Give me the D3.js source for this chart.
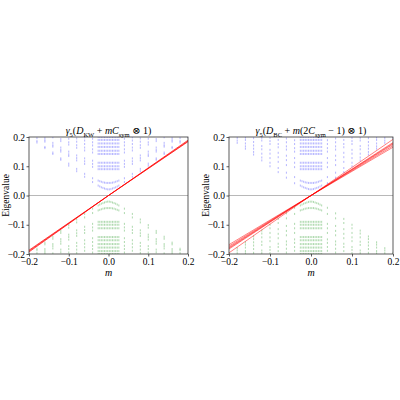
<!DOCTYPE html>
<html>
<head>
<meta charset="utf-8">
<script src="https://cdn.jsdelivr.net/npm/d3@7"></script>
<style>
    body { margin: 0; background: #fff; }
    text { font-family: "Liberation Serif", "DejaVu Serif", serif; fill: #000; }
</style>
</head>
<body>
<div id="chart"></div>
<script>
// m values of the sparse columns
var mOuter = [-0.2, -0.18, -0.16, -0.14, -0.12, -0.1, -0.08, -0.06, -0.04,
    0.04, 0.06, 0.08, 0.1, 0.12, 0.14, 0.16, 0.18, 0.2];

// positive eigenvalues per sparse column (blue)
var blueOuterKW = [
    [0.199],
    [0.181, 0.186, 0.196],
    [0.162, 0.166, 0.184, 0.189, 0.196],
    [0.142, 0.147, 0.167, 0.172, 0.18, 0.199],
    [0.122, 0.127, 0.15, 0.156, 0.164, 0.186, 0.193],
    [0.102, 0.109, 0.135, 0.141, 0.15, 0.174, 0.182, 0.194],
    [0.083, 0.091, 0.12, 0.128, 0.137, 0.163, 0.172, 0.184, 0.195],
    [0.064, 0.074, 0.108, 0.117, 0.127, 0.154, 0.164, 0.176, 0.188, 0.199],
    [0.046, 0.059, 0.098, 0.108, 0.119, 0.147, 0.158, 0.171, 0.182, 0.194],
    [0.046, 0.059, 0.098, 0.108, 0.119, 0.147, 0.158, 0.171, 0.182, 0.194],
    [0.064, 0.074, 0.108, 0.117, 0.127, 0.154, 0.164, 0.176, 0.188, 0.199],
    [0.083, 0.091, 0.12, 0.128, 0.137, 0.163, 0.172, 0.184, 0.195],
    [0.102, 0.109, 0.135, 0.141, 0.15, 0.174, 0.182, 0.194],
    [0.122, 0.127, 0.15, 0.156, 0.164, 0.186, 0.193],
    [0.142, 0.147, 0.167, 0.172, 0.18, 0.199],
    [0.162, 0.166, 0.184, 0.189, 0.196],
    [0.181, 0.186, 0.196],
    [0.199]
];

// negative eigenvalues per sparse column (green)
var greenOuterKW = [
    [-0.199],
    [-0.182, -0.187, -0.197],
    [-0.161, -0.167, -0.183, -0.19, -0.197],
    [-0.141, -0.148, -0.166, -0.173, -0.181, -0.198],
    [-0.121, -0.128, -0.149, -0.157, -0.165, -0.185, -0.194],
    [-0.101, -0.11, -0.134, -0.142, -0.151, -0.173, -0.183, -0.195],
    [-0.082, -0.092, -0.119, -0.129, -0.138, -0.162, -0.173, -0.185, -0.196],
    [-0.063, -0.075, -0.107, -0.118, -0.128, -0.153, -0.165, -0.177, -0.189],
    [-0.045, -0.06, -0.097, -0.109, -0.12, -0.146, -0.159, -0.172, -0.183, -0.195],
    [-0.045, -0.06, -0.097, -0.109, -0.12, -0.146, -0.159, -0.172, -0.183, -0.195],
    [-0.063, -0.075, -0.107, -0.118, -0.128, -0.153, -0.165, -0.177, -0.189],
    [-0.082, -0.092, -0.119, -0.129, -0.138, -0.162, -0.173, -0.185, -0.196],
    [-0.101, -0.11, -0.134, -0.142, -0.151, -0.173, -0.183, -0.195],
    [-0.121, -0.128, -0.149, -0.157, -0.165, -0.185, -0.194],
    [-0.141, -0.148, -0.166, -0.173, -0.181, -0.198],
    [-0.161, -0.167, -0.183, -0.19, -0.197],
    [-0.182, -0.187, -0.197],
    [-0.199]
];

// BC panel sparse columns
var blueOuterBC = [
    [0.196],
    [0.18, 0.188, 0.197],
    [0.16, 0.168, 0.178, 0.19, 0.198],
    [0.14, 0.149, 0.16, 0.171, 0.183, 0.196],
    [0.12, 0.13, 0.143, 0.158, 0.169, 0.188, 0.197],
    [0.1, 0.112, 0.128, 0.143, 0.156, 0.176, 0.186, 0.197],
    [0.08, 0.094, 0.115, 0.131, 0.146, 0.165, 0.176, 0.19],
    [0.061, 0.078, 0.104, 0.121, 0.136, 0.157, 0.168, 0.182, 0.195],
    [0.042, 0.063, 0.097, 0.112, 0.128, 0.15, 0.162, 0.176, 0.189],
    [0.042, 0.063, 0.097, 0.112, 0.128, 0.15, 0.162, 0.176, 0.189],
    [0.061, 0.078, 0.104, 0.121, 0.136, 0.157, 0.168, 0.182, 0.195],
    [0.08, 0.094, 0.115, 0.131, 0.146, 0.165, 0.176, 0.19],
    [0.1, 0.112, 0.128, 0.143, 0.156, 0.176, 0.186, 0.197],
    [0.12, 0.13, 0.143, 0.158, 0.169, 0.188, 0.197],
    [0.14, 0.149, 0.16, 0.171, 0.183, 0.196],
    [0.16, 0.168, 0.178, 0.19, 0.198],
    [0.18, 0.188, 0.197],
    [0.196]
];
var greenOuterBC = [
    [-0.196],
    [-0.18, -0.188, -0.197],
    [-0.16, -0.168, -0.178, -0.19, -0.198],
    [-0.14, -0.149, -0.16, -0.171, -0.183, -0.196],
    [-0.12, -0.13, -0.143, -0.158, -0.169, -0.188, -0.197],
    [-0.1, -0.112, -0.128, -0.143, -0.156, -0.176, -0.186, -0.197],
    [-0.08, -0.094, -0.115, -0.131, -0.146, -0.165, -0.176, -0.19],
    [-0.061, -0.078, -0.104, -0.121, -0.136, -0.157, -0.168, -0.182, -0.195],
    [-0.042, -0.063, -0.097, -0.112, -0.128, -0.15, -0.162, -0.176, -0.189],
    [-0.042, -0.063, -0.097, -0.112, -0.128, -0.15, -0.162, -0.176, -0.189],
    [-0.061, -0.078, -0.104, -0.121, -0.136, -0.157, -0.168, -0.182, -0.195],
    [-0.08, -0.094, -0.115, -0.131, -0.146, -0.165, -0.176, -0.19],
    [-0.1, -0.112, -0.128, -0.143, -0.156, -0.176, -0.186, -0.197],
    [-0.12, -0.13, -0.143, -0.158, -0.169, -0.188, -0.197],
    [-0.14, -0.149, -0.16, -0.171, -0.183, -0.196],
    [-0.16, -0.168, -0.178, -0.19, -0.198],
    [-0.18, -0.188, -0.197],
    [-0.196]
];

// dense columns around m = 0
var mDense = [-0.026, -0.022, -0.018, -0.014, -0.01, -0.006, -0.002,
    0.002, 0.006, 0.01, 0.014, 0.018, 0.022, 0.026];
var blueLevels = [0.09, 0.1, 0.112, 0.142, 0.153, 0.166, 0.178, 0.19, 0.2];
var greenLevels = [-0.09, -0.1, -0.112, -0.142, -0.153, -0.166, -0.178, -0.19, -0.2];
// the two lowest levels bend with m
var blueArcLow = [0.034, 0.031, 0.028, 0.026, 0.024, 0.022, 0.021, 0.021, 0.022, 0.024, 0.026, 0.028, 0.031, 0.034];
var blueArcHigh = [0.051, 0.049, 0.047, 0.045, 0.044, 0.043, 0.043, 0.043, 0.043, 0.044, 0.045, 0.047, 0.049, 0.051];
var greenArcLow = [-0.034, -0.031, -0.028, -0.026, -0.024, -0.022, -0.021, -0.021, -0.022, -0.024, -0.026, -0.028, -0.031, -0.034];
var greenArcHigh = [-0.051, -0.049, -0.047, -0.045, -0.044, -0.043, -0.043, -0.043, -0.043, -0.044, -0.045, -0.047, -0.049, -0.051];

// near-zero modes (red), sampled at m = -0.2, 0, 0.2
var redM = [-0.2, 0, 0.2];
var redKW = [
    [-0.187, 0, 0.184],
    [-0.19, 0, 0.186],
    [-0.193, 0, 0.189]
];
var redBC = [
    [-0.168, 0, 0.165],
    [-0.173, 0, 0.17],
    [-0.177, 0, 0.175],
    [-0.18, 0, 0.178],
    [-0.183, 0, 0.181],
    [-0.196, 0, 0.192]
];

var xTicks = [-0.2, -0.1, 0, 0.1, 0.2];
var yTicks = [-0.2, -0.1, 0, 0.1, 0.2];

var svg = d3.select("#chart")
    .append("svg")
    .attr("width", 400)
    .attr("height", 400);

var fmt = d3.format(".1f");

function buildPoints(outerVals, levels, arcLow, arcHigh) {
    var pts = [];
    mOuter.forEach(function(m, i) {
        outerVals[i].forEach(function(v) { pts.push([m, v]); });
    });
    mDense.forEach(function(m, i) {
        levels.forEach(function(v) { pts.push([m, v]); });
        pts.push([m, arcLow[i]]);
        pts.push([m, arcHigh[i]]);
    });
    return pts;
}

function drawPanel(id, left, right, titleParts, blueOuter, greenOuter, reds, redWidth) {
    var top = 137, bottom = 254;
    var x = d3.scaleLinear().domain([-0.2, 0.2]).range([left, right]);
    var y = d3.scaleLinear().domain([-0.2, 0.2]).range([bottom, top]);
    var g = svg.append("g");

    svg.append("clipPath").attr("id", id)
        .append("rect")
        .attr("x", left).attr("y", top)
        .attr("width", right - left).attr("height", bottom - top);

    var plot = g.append("g").attr("clip-path", "url(#" + id + ")");

    // zero line
    plot.append("line")
        .attr("x1", left).attr("x2", right)
        .attr("y1", y(0)).attr("y2", y(0))
        .attr("stroke", "#b0b0b0").attr("stroke-width", 0.9);

    var blue = buildPoints(blueOuter, blueLevels, blueArcLow, blueArcHigh);
    var green = buildPoints(greenOuter, greenLevels, greenArcLow, greenArcHigh);

    plot.append("g").selectAll("rect")
        .data(blue).enter().append("rect")
        .attr("x", function(d) { return x(d[0]) - 0.5; })
        .attr("y", function(d) { return y(d[1]) - 1; })
        .attr("width", 1).attr("height", 2)
        .attr("fill", "#3c3cff").attr("fill-opacity", 0.38);

    plot.append("g").selectAll("rect")
        .data(green).enter().append("rect")
        .attr("x", function(d) { return x(d[0]) - 0.5; })
        .attr("y", function(d) { return y(d[1]) - 1; })
        .attr("width", 1).attr("height", 2)
        .attr("fill", "#2a9a2a").attr("fill-opacity", 0.38);

    var line = d3.line()
        .x(function(d, i) { return x(redM[i]); })
        .y(function(d) { return y(d); });
    plot.append("g").selectAll("path")
        .data(reds).enter().append("path")
        .attr("d", line)
        .attr("fill", "none")
        .attr("stroke", "#ff0000")
        .attr("stroke-opacity", 0.7)
        .attr("stroke-width", redWidth);

    // frame
    g.append("rect")
        .attr("x", left).attr("y", top)
        .attr("width", right - left).attr("height", bottom - top)
        .attr("fill", "none").attr("stroke", "#333").attr("stroke-width", 0.8);

    var xAxis = g.append("g")
        .attr("transform", "translate(0," + bottom + ")")
        .call(d3.axisBottom(x).tickValues(xTicks).tickSize(2.5).tickPadding(1.5).tickFormat(fmt));
    var yAxis = g.append("g")
        .attr("transform", "translate(" + left + ",0)")
        .call(d3.axisLeft(y).tickValues(yTicks).tickSize(2.5).tickPadding(1.5).tickFormat(fmt));
    [xAxis, yAxis].forEach(function(a) {
        a.select(".domain").remove();
        a.selectAll("line").attr("stroke", "#333").attr("stroke-width", 0.8);
        a.selectAll("text")
            .style("font-family", "'Liberation Serif', serif")
            .style("font-size", "9.5px")
            .attr("fill", "#000");
    });

    g.append("text")
        .attr("x", (left + right) / 2).attr("y", 276)
        .attr("text-anchor", "middle")
        .style("font-size", "10px").style("font-style", "italic")
        .text("m");

    g.append("text")
        .attr("transform", "translate(" + (left - 20) + "," + ((top + bottom) / 2) + ") rotate(-90)")
        .attr("text-anchor", "middle")
        .style("font-size", "9.5px")
        .text("Eigenvalue");

    var title = g.append("text")
        .attr("x", (left + right) / 2).attr("y", 134)
        .attr("text-anchor", "middle")
        .style("font-size", "10px");
    var lowered = false;
    titleParts.forEach(function(p) {
        var t = title.append("tspan").text(p.t);
        if (p.i) t.style("font-style", "italic");
        if (p.sub) {
            t.attr("dy", 2.5).style("font-size", "6.5px");
            lowered = true;
        } else if (lowered) {
            t.attr("dy", -2.5);
            lowered = false;
        }
    });
}

drawPanel("clipKW", 29, 188, [
    { t: "γ", i: true }, { t: "5", sub: true }, { t: "(" }, { t: "D", i: true },
    { t: "KW", sub: true }, { t: " + " }, { t: "mC", i: true }, { t: "sym", sub: true },
    { t: " ⊗ 1)" }
], blueOuterKW, greenOuterKW, redKW, 1);

drawPanel("clipBC", 229, 393, [
    { t: "γ", i: true }, { t: "5", sub: true }, { t: "(" }, { t: "D", i: true },
    { t: "BC", sub: true }, { t: " + " }, { t: "m", i: true }, { t: "(2" },
    { t: "C", i: true }, { t: "sym", sub: true }, { t: " − 1) ⊗ 1)" }
], blueOuterBC, greenOuterBC, redBC, 0.7);
</script>
</body>
</html>
